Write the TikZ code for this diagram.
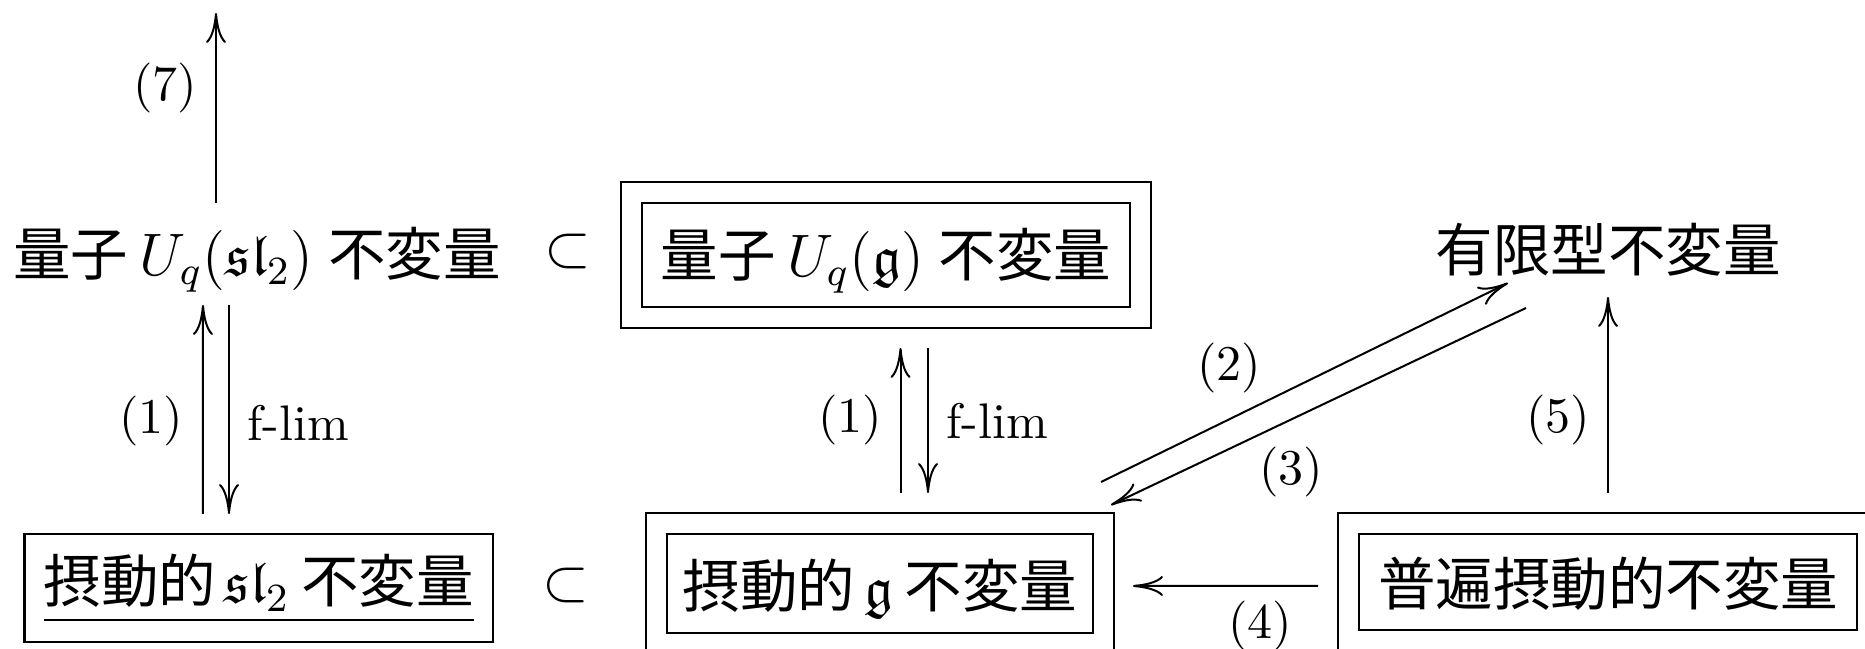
\documentclass[tikz,border=0pt]{standalone}
\usepackage{amssymb}
\usepackage{fontspec}
\newfontfamily\cjk{Noto Sans CJK JP}
\usetikzlibrary{arrows.meta,calc,fit}
\tikzset{
  arr/.style={-{To[length=6pt,width=4pt]}, line width=0.4pt},
  big/.style={font=\fontsize{11.5pt}{14pt}\selectfont, inner sep=0pt, outer sep=0pt, text height=10.1pt, text depth=1.4pt},
  sym/.style={font=\fontsize{11.5pt}{14pt}\selectfont, inner sep=0pt, outer sep=0pt},
  lab/.style={font=\fontsize{10pt}{12pt}\selectfont, inner sep=0pt},
  box/.style={big, draw, line width=0.45pt},
  frame/.style={draw, line width=0.45pt, inner sep=4.2pt, outer sep=0pt},
}
\begin{document}
\begin{tikzpicture}[x=0.2pt,y=-0.2pt]
\useasboundingbox (0,0) rectangle (1865,649);
\clip (0,0) rectangle (1865,649);
% main nodes
\node[big, minimum height=20.4pt] (qsl2) at (257,254)
  {{\cjk 量子}\hspace{0.2em}$U_q(\mathfrak{sl}_2)$\hspace{0.25em}{\cjk 不変量}};
\node[sym] (sub1) at (568,252) {$\subset$};
\node[box, minimum width=97.6pt, minimum height=20.8pt] (qg) at (886,255)
  {{\cjk 量子}\hspace{0.2em}$U_q(\mathfrak{g})$\hspace{0.25em}{\cjk 不変量}};
\node[frame, fit=(qg)] (qgO) {};
\node[big, minimum height=18.8pt] (fin) at (1608,250) {{\cjk 有限型不変量}};
\node[box, text depth=4.1pt, minimum width=93.7pt, minimum height=21.6pt] (psl2) at (258.75,588)
  {\underline{{\cjk 摂動的}\hspace{0.15em}$\mathfrak{sl}_2$\hspace{0.2em}{\cjk 不変量}}};
\node[sym] (sub2) at (565.5,585.5) {$\subset$};
\node[box, text depth=0.6pt, minimum width=85.2pt, minimum height=19.8pt] (pg) at (880,583.5)
  {{\cjk 摂動的}\hspace{0.15em}$\mathfrak{g}$\hspace{0.2em}{\cjk 不変量}};
\node[frame, fit=(pg)] (pgO) {};
\node[box, text depth=0.6pt, minimum width=99.6pt, minimum height=19.2pt] (univ) at (1608,582)
  {{\cjk 普遍摂動的不変量}};
\node[frame, fit=(univ)] (univO) {};
\coordinate (top7) at (216,13);
% arrows
\draw[arr] ($(qsl2.north)+(-41,0)$) -- (top7);
\draw[arr] ($(psl2.north)+(-56,-20)$) -- ($(qsl2.south)+(-54,0)$);
\draw[arr] ($(qsl2.south)+(-28,0)$) -- ($(psl2.north)+(-29.75,-20)$);
\draw[arr] ($(pgO.north)+(20.5,-20)$) -- ($(qgO.south)+(14.5,20)$);
\draw[arr] ($(qgO.south)+(42,20)$) -- ($(pgO.north)+(48,-20)$);
\draw[arr] ($(pgO.north east)+(-13,-31)$) -- ($(fin.south)+(-100,-14)$);
\draw[arr] ($(fin.south)+(-82,11)$) -- ($(pgO.north east)+(-3,-8)$);
\draw[arr] ($(univO.north)+(0,-20)$) -- (fin.south);
\draw[arr] ($(univO.west)+(-20,4)$) -- ($(pgO.east)+(19,2.5)$);
% labels
\node[lab] (l7) at (165,88) {(7)};
\node[lab] (l1a) at (151,421) {(1)};
\node[lab] (fla) at (298,423) {f-lim};
\node[lab] (l1b) at (850,420) {(1)};
\node[lab] (flb) at (997,421) {f-lim};
\node[lab] (l2) at (1229,368) {(2)};
\node[lab] (l3) at (1291,472) {(3)};
\node[lab] (l4) at (1260,626) {(4)};
\node[lab] (l5) at (1558,420) {(5)};
\end{tikzpicture}
\end{document}
